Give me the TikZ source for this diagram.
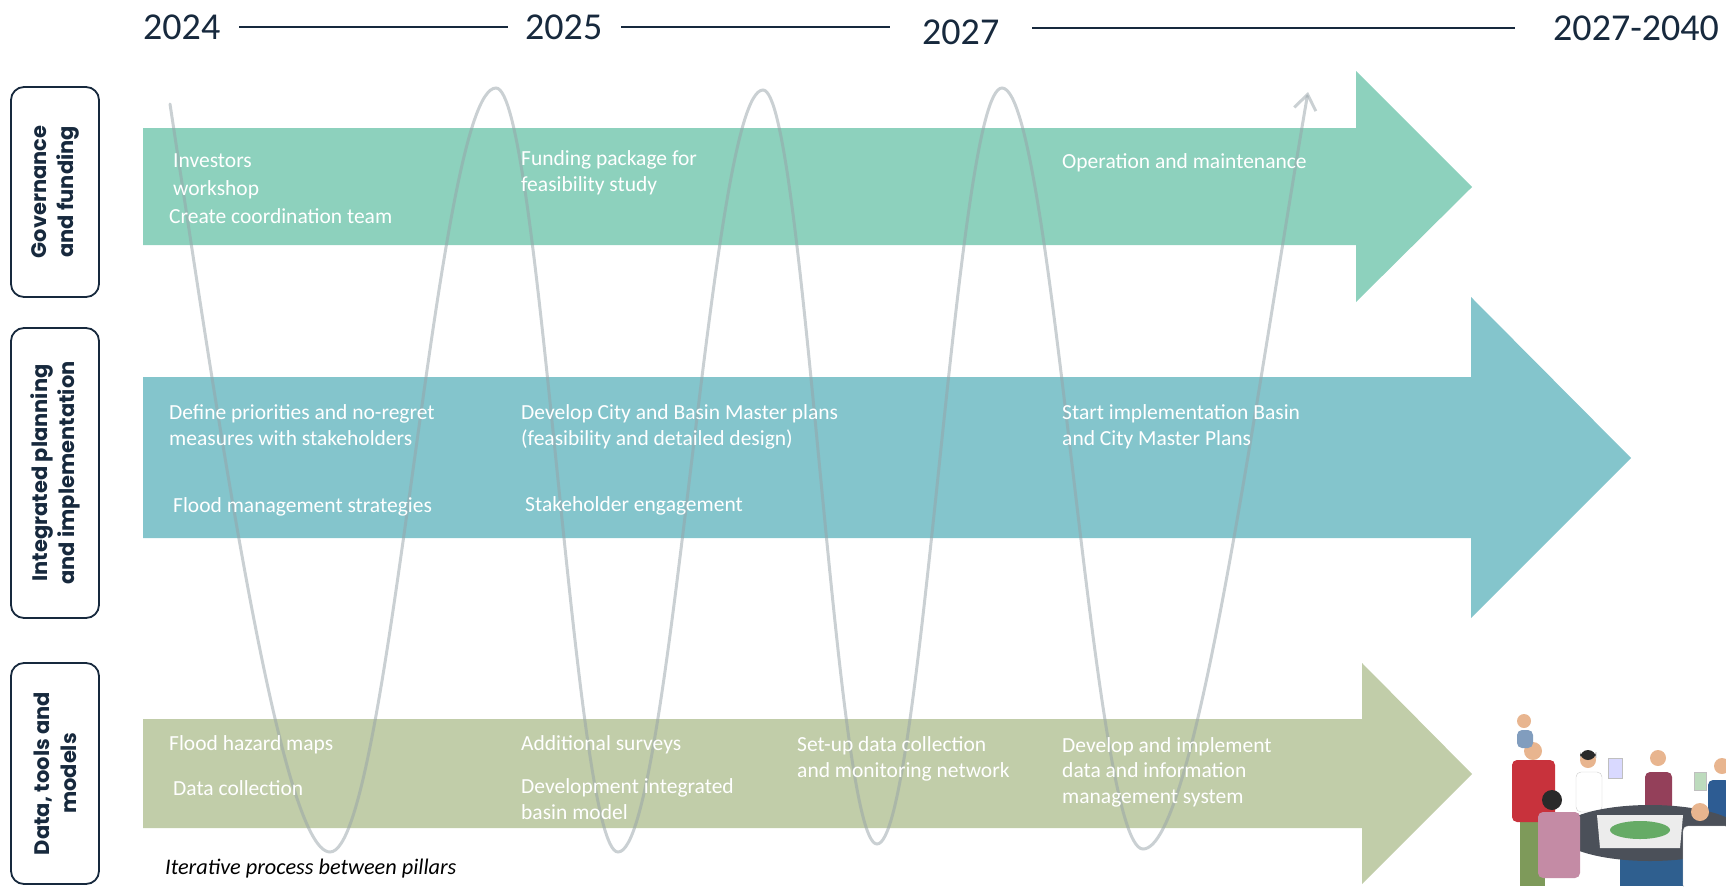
\documentclass[tikz,border=0pt]{standalone}
\usepackage{fontspec}
\setmainfont{Carlito}
\newfontfamily\pillarfont{Poppins}
\usetikzlibrary{arrows.meta,positioning}
\definecolor{DeltaNavy}{RGB}{23,41,61}
\definecolor{DeltaGreen}{RGB}{141,209,189}
\definecolor{DeltaTeal}{RGB}{132,197,204}
\definecolor{DeltaSage}{RGB}{193,205,169}
\definecolor{DeltaGrey}{RGB}{150,162,168}
\definecolor{DeltaTable}{RGB}{75,80,89}
\definecolor{DeltaBase}{RGB}{47,95,143}
\definecolor{DeltaSkin}{RGB}{232,181,143}
\definecolor{DeltaRed}{RGB}{200,50,60}
\definecolor{DeltaMaroon}{RGB}{148,64,90}
\definecolor{DeltaPink}{RGB}{196,139,165}
\definecolor{DeltaPants}{RGB}{126,154,90}
\definecolor{DeltaJacket}{RGB}{45,92,147}
\definecolor{DeltaHair}{RGB}{42,42,42}

\begin{document}
\begin{tikzpicture}[
    x=1pt,y=-1pt,
    year/.style={anchor=west,inner sep=0pt,font=\fontsize{38}{40}\selectfont,text=DeltaNavy},
    yearline/.style={draw=DeltaNavy,line width=2.6pt},
    pillar/.style={draw=DeltaNavy,line width=1.8pt,rounded corners=13pt,rotate=90,minimum height=88pt,inner sep=0pt,align=center,font=\pillarfont\bfseries\fontsize{21}{27}\selectfont,text=DeltaNavy},
    task/.style={anchor=base west,inner sep=0pt,align=left,text=white,font=\fontsize{21.5}{25.5}\selectfont},
    cycleline/.style={draw=DeltaGrey,draw opacity=0.5,line width=3pt,line cap=round},
    head/.style={fill=DeltaSkin},
    body/.style={rounded corners=5pt}
  ]
  \useasboundingbox (0,0) rectangle (1726,886);

  % timeline
  \node[year] (y24) at (143,27) {2024};
  \node[year] (y25) at (525,27) {2025};
  \node[year] (y27) at (922,32) {2027};
  \node[year] (y40) at (1553,28) {2027-2040};
  \draw[yearline] ([xshift=19pt]y24.east) -- ([xshift=-17pt]y25.west);
  \draw[yearline] ([xshift=19pt]y25.east) -- ([xshift=-32pt]y27.west |- y25.east);
  \draw[yearline] ([xshift=33pt]y27.east |- y40.west) -- ([xshift=-38pt]y40.west);

  % pillars
  \node[pillar,minimum width=210pt] (gov) at (55,192) {Governance\\and funding};
  \node[pillar,minimum width=290pt] (plan) at (55,473) {Integrated planning\\and implementation};
  \node[pillar,minimum width=221pt] (data) at (55,773.5) {Data, tools and\\models};

  \fill[DeltaGreen] (143,128) -- (1356,128) -- (1356,71) -- (1472,187) -- (1356,302) -- (1356,245) -- (143,245) -- cycle;
  \fill[DeltaTeal] (143,377) -- (1471,377) -- (1471,297) -- (1631,458) -- (1471,618) -- (1471,538) -- (143,538) -- cycle;
  \fill[DeltaSage] (143,719) -- (1362,719) -- (1362,663) -- (1472,774) -- (1362,884) -- (1362,828) -- (143,828) -- cycle;

  % iteration between the pillars
  \draw[cycleline,-{Straight Barb[length=15pt,width=22pt]}] (170,104)
    .. controls (215,400) and (280,852) .. (330,852)
    .. controls (390,852) and (436,88) .. (496,88)
    .. controls (540,88) and (574,852) .. (618,852)
    .. controls (671,852) and (710,90) .. (763,90)
    .. controls (804,90) and (835,844) .. (877,844)
    .. controls (922,844) and (956,88) .. (1002,88)
    .. controls (1053,88) and (1092,849) .. (1143,849)
    .. controls (1195,849) and (1255,400) .. (1308,92);

  % multi-line tasks sit on the baseline of their last line
  \node[task] (inv) at (173,195) {Investors\\[2.5pt]workshop};
  \node[task] (team) at (169,223) {Create coordination team};
  \node[task] (fund) at (521,191) {Funding package for\\feasibility study};
  \node[task] (om) at (1062,168) {Operation and maintenance};

  \node[task] (prio) at (169,445) {Define priorities and no-regret\\measures with stakeholders};
  \node[task] (strat) at (173,512) {Flood management strategies};
  \node[task] (master) at (521,445) {Develop City and Basin Master plans\\(feasibility and detailed design)};
  \node[task] (engage) at (525,511) {Stakeholder engagement};
  \node[task] (start) at (1062,445) {Start implementation Basin\\and City Master Plans};

  \node[task] (hazard) at (169,750) {Flood hazard maps};
  \node[task] (collect) at (173,795) {Data collection};
  \node[task] (survey) at (521,750) {Additional surveys};
  \node[task] (basin) at (521,819) {Development integrated\\basin model};
  \node[task] (monitor) at (797,777) {Set-up data collection\\and monitoring network};
  \node[task] (info) at (1062,803) {Develop and implement\\data and information\\management system};

  \node[anchor=base west,inner sep=0pt,font=\itshape\fontsize{22.3}{26}\selectfont] (note) at (165,874) {Iterative process between pillars};

  % people round the map table
  \fill[body,white,draw=gray!40] (1576,772) rectangle (1602,812);
  \fill[head] (1588,760) circle (8);
  \fill[DeltaHair] (1580,758) arc (180:360:8) -- (1596,752) arc (0:180:8) -- cycle;
  \fill[body,DeltaMaroon] (1645,772) rectangle (1672,812);
  \fill[head] (1658,758) circle (8);
  \fill[body,DeltaJacket] (1708,780) rectangle (1730,835);
  \fill[head] (1722,766) circle (8);
  \fill[blue!15,draw=gray!50] (1608,758) rectangle (1622,778);
  \fill[green!30!gray!40,draw=gray!50] (1694,772) rectangle (1706,790);
  \fill[DeltaBase] (1620,845) rectangle (1690,886);
  \fill[DeltaTable] (1650,833) ellipse [x radius=92,y radius=28];
  \fill[gray!15] (1597,815) -- (1683,815) -- (1680,848) -- (1600,848) -- cycle;
  \fill[green!45!black!60] (1640,830) ellipse [x radius=30,y radius=9];
  \fill[DeltaPants] (1520,815) rectangle (1545,886);
  \fill[body,DeltaRed] (1512,760) rectangle (1555,822);
  \fill[head] (1533,751) circle (9);
  \fill[body,DeltaJacket!60] (1517,730) rectangle (1533,748);
  \fill[head] (1524,721) circle (7);
  \fill[body,DeltaPink] (1538,812) rectangle (1580,878);
  \fill[DeltaHair] (1552,800) circle (10);
  \fill[body,white,draw=gray!40] (1683,826) rectangle (1730,890);
  \fill[head] (1700,812) circle (9);
\end{tikzpicture}
\end{document}
